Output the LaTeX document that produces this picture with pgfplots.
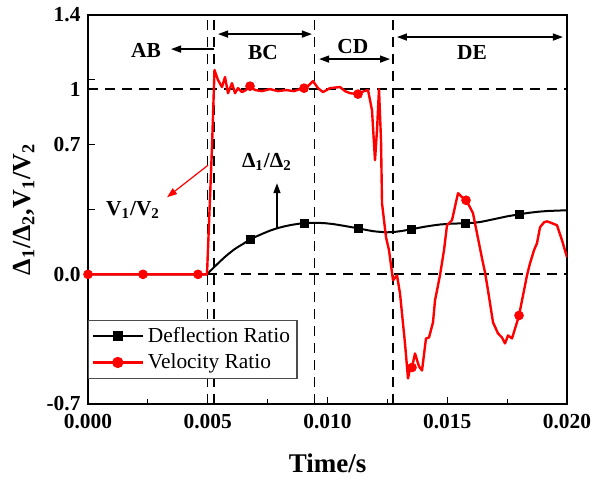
\documentclass[border=0pt]{standalone}
\usepackage{fontspec}
\setmainfont{Liberation Serif}
\usepackage{pgfplots}
\pgfplotsset{compat=1.18}
\usetikzlibrary{arrows.meta}

\pgfplotstableread{
x y
0 0
0.00497 0
0.0051 0.018
0.0053 0.043
0.0055 0.068
0.0057 0.092
0.0059 0.114
0.0061 0.134
0.0063 0.151
0.0065 0.166
0.00676 0.189
0.0070 0.203
0.0073 0.220
0.0076 0.236
0.0079 0.249
0.0082 0.259
0.0085 0.267
0.0088 0.273
0.00902 0.276
0.0093 0.278
0.0096 0.278
0.0099 0.276
0.0102 0.272
0.0105 0.266
0.0109 0.257
0.01127 0.249
0.0116 0.240
0.0119 0.233
0.0122 0.229
0.0125 0.227
0.0128 0.229
0.0131 0.234
0.01349 0.243
0.0138 0.251
0.0141 0.258
0.0144 0.264
0.0147 0.269
0.0151 0.273
0.01574 0.276
0.0161 0.278
0.0164 0.283
0.0167 0.291
0.0171 0.302
0.0175 0.313
0.0180 0.324
0.0184 0.332
0.0188 0.338
0.0192 0.342
0.0196 0.344
0.0200 0.346
}\defl

\pgfplotstableread{
x y
0.00676 0.189
0.00902 0.276
0.01127 0.249
0.01349 0.243
0.01574 0.276
0.0180 0.324
}\deflmarks

\pgfplotstableread{
x y
0 0
0.004969 0
0.005177 0.686
0.005282 1.103
0.005428 1.049
0.005595 1.011
0.005720 1.065
0.005846 0.978
0.006013 1.032
0.006138 0.978
0.006263 1.005
0.006430 0.984
0.006597 0.995
0.006764 1.016
0.006973 0.995
0.007265 0.989
0.007599 1.000
0.007933 0.989
0.008267 0.995
0.008601 0.989
0.008852 1.000
0.009019 1.005
0.009186 1.016
0.009395 1.043
0.009603 1.005
0.009812 0.984
0.010104 1.005
0.010522 1.011
0.010731 0.989
0.010939 0.978
0.011273 0.973
0.011524 0.989
0.011691 0.995
0.011858 0.886
0.011983 0.616
0.012067 0.778
0.012150 1.000
0.012234 0.724
0.012276 0.384
0.012443 0.200
0.012568 0.130
0.012735 -0.032
0.012902 -0.005
0.013027 -0.103
0.013236 -0.373
0.013361 -0.562
0.013445 -0.508
0.013528 -0.503
0.013653 -0.427
0.013820 -0.497
0.013946 -0.519
0.014113 -0.346
0.014238 -0.341
0.014405 -0.259
0.014489 -0.141
0.014697 -0.005
0.014864 0.130
0.014990 0.265
0.015198 0.292
0.015449 0.438
0.015658 0.411
0.015783 0.400
0.015950 0.362
0.016075 0.330
0.016242 0.222
0.016451 0.086
0.016576 0.011
0.016701 -0.086
0.016910 -0.259
0.017119 -0.319
0.017286 -0.341
0.017411 -0.373
0.017537 -0.330
0.017704 -0.346
0.017871 -0.276
0.017996 -0.222
0.018163 -0.114
0.018330 -0.005
0.018455 0.059
0.018622 0.130
0.018747 0.168
0.018873 0.254
0.019040 0.281
0.019165 0.286
0.019374 0.276
0.019582 0.265
0.019791 0.184
0.020000 0.092
}\velo

\pgfplotstableread{
x y
0 0
0.002296 0
0.004593 0
0.006764 1.016
0.009019 1.005
0.011273 0.973
0.013528 -0.503
0.015783 0.400
0.017996 -0.222
}\velomarks

\begin{document}
\fontsize{10.7}{12.8}\selectfont
\begin{tikzpicture}
\path[use as bounding box] (-44pt,-39pt) rectangle (252pt,202pt);
\begin{axis}[
  at={(0pt,0pt)}, anchor=south west,
  scale only axis, width=239.5pt, height=194.5pt,
  xmin=0, xmax=0.02, ymin=-0.7, ymax=1.4,
  axis line style={line width=0.75pt},
  tick align=inside, xtick pos=bottom, ytick pos=left,
  xtick={0,0.005,0.01,0.015,0.02},
  xticklabels={0.000,0.005,0.010,0.015,0.020},
  minor xtick={0.0025,0.0075,0.0125,0.0175},
  ytick={-0.7,-0.35,0,0.35,0.7,1.05,1.4},
  yticklabels={-0.7,,0.0,,0.7,,1.4},
  extra y ticks={1}, extra y tick labels={1},
  scaled x ticks=false, scaled y ticks=false,
  major tick length=3.5pt, minor tick length=2.5pt,
  every tick/.style={line width=0.6pt, black},
  ticklabel style={font=\fontsize{10.7}{12}\selectfont\rmfamily\bfseries},
  xticklabel style={yshift=-1.5pt},
  /pgf/number format/assume math mode=true,
  xlabel={\fontsize{13.5}{15}\selectfont\rmfamily\bfseries Time/s},
  xlabel style={at={(axis description cs:0.5,-0.152)}, anchor=center},
  ylabel={\fontsize{13}{15}\selectfont\rmfamily\bfseries Δ\textsubscript{1}/Δ\textsubscript{2},V\textsubscript{1}/V\textsubscript{2}},
  ylabel style={at={(axis description cs:-0.1336,0.5)}, anchor=center, rotate=0},
  legend style={at={(rel axis cs:0,0.064)}, anchor=south west, draw=black!70, line width=0.6pt,
    font=\fontsize{10.7}{12}\selectfont\rmfamily\mdseries, inner sep=1.5pt, row sep=0pt, cells={anchor=west}},
  legend image code/.code={\draw[mark repeat=2,mark phase=2,#1] plot coordinates {(0pt,0pt) (12.5pt,0pt) (25pt,0pt)};},
]
\addlegendimage{black, line width=1pt, mark=square*, mark size=2pt, mark options={solid}}
\addlegendentry{\rmfamily Deflection Ratio}
\addlegendimage{red, line width=1.2pt, mark=*, mark size=2.2pt, mark options={solid}}
\addlegendentry{\rmfamily Velocity Ratio}

% reference dashed lines
\addplot[forget plot, black, line width=0.9pt, dash pattern=on 5pt off 3.5pt] coordinates {(0,1) (0.02,1)};
\addplot[forget plot, black, line width=0.9pt, dash pattern=on 5pt off 3.5pt] coordinates {(0,0) (0.02,0)};
\addplot[forget plot, black, line width=0.9pt, dash pattern=on 5pt off 3.5pt] coordinates {(0.004987,-0.7) (0.004987,1.4)};
\addplot[forget plot, black, line width=0.9pt, dash pattern=on 5pt off 3.5pt] coordinates {(0.00526,-0.7) (0.00526,1.4)};
\addplot[forget plot, black, line width=0.9pt, dash pattern=on 5pt off 3.5pt] coordinates {(0.00946,-0.7) (0.00946,1.4)};
\addplot[forget plot, black, line width=0.9pt, dash pattern=on 5pt off 3.5pt] coordinates {(0.01275,-0.7) (0.01275,1.4)};

% deflection ratio
\addplot[forget plot, black, line width=1pt, line join=round] table {\defl};
\addplot[forget plot, only marks, black, mark=square*, mark size=2pt] table {\deflmarks};

% velocity ratio
\addplot[forget plot, red, line width=1.2pt, line join=round] table {\velo};
\addplot[forget plot, only marks, red, mark=*, mark size=2.2pt] table {\velomarks};

% annotations
\draw[line width=0.75pt, -{Triangle[length=5pt,width=3.5pt]}] (axis cs:0.00527,1.216) -- (axis cs:0.003466,1.216);
\node[font=\fontsize{10.7}{12}\selectfont\bfseries] at (axis cs:0.00242,1.211) {AB};
\draw[line width=0.75pt, {Triangle[length=5pt,width=3.5pt]}-{Triangle[length=5pt,width=3.5pt]}] (axis cs:0.00543,1.297) -- (axis cs:0.00935,1.297);
\node[font=\fontsize{10.7}{12}\selectfont\bfseries] at (axis cs:0.00731,1.2) {BC};
\draw[line width=0.75pt, {Triangle[length=5pt,width=3.5pt]}-{Triangle[length=5pt,width=3.5pt]}] (axis cs:0.00965,1.162) -- (axis cs:0.01261,1.162);
\node[font=\fontsize{10.7}{12}\selectfont\bfseries] at (axis cs:0.01106,1.232) {CD};
\draw[line width=0.75pt, {Triangle[length=5pt,width=3.5pt]}-{Triangle[length=5pt,width=3.5pt]}] (axis cs:0.0129,1.281) -- (axis cs:0.01983,1.281);
\node[font=\fontsize{10.7}{12}\selectfont\bfseries] at (axis cs:0.01603,1.2) {DE};
\node[font=\fontsize{10.7}{12}\selectfont\bfseries] at (axis cs:0.00747,0.605) {Δ\textsubscript{1}/Δ\textsubscript{2}};
\draw[line width=0.75pt, -{Triangle[length=5pt,width=3.5pt]}] (axis cs:0.00789,0.249) -- (axis cs:0.00789,0.492);
\node[font=\fontsize{10.7}{12}\selectfont\bfseries] at (axis cs:0.00188,0.346) {V\textsubscript{1}/V\textsubscript{2}};
\draw[red, line width=0.6pt, -{Triangle[length=5pt,width=3.5pt]}] (axis cs:0.00501,0.589) -- (axis cs:0.0033,0.416);
\end{axis}
\end{tikzpicture}
\end{document}
